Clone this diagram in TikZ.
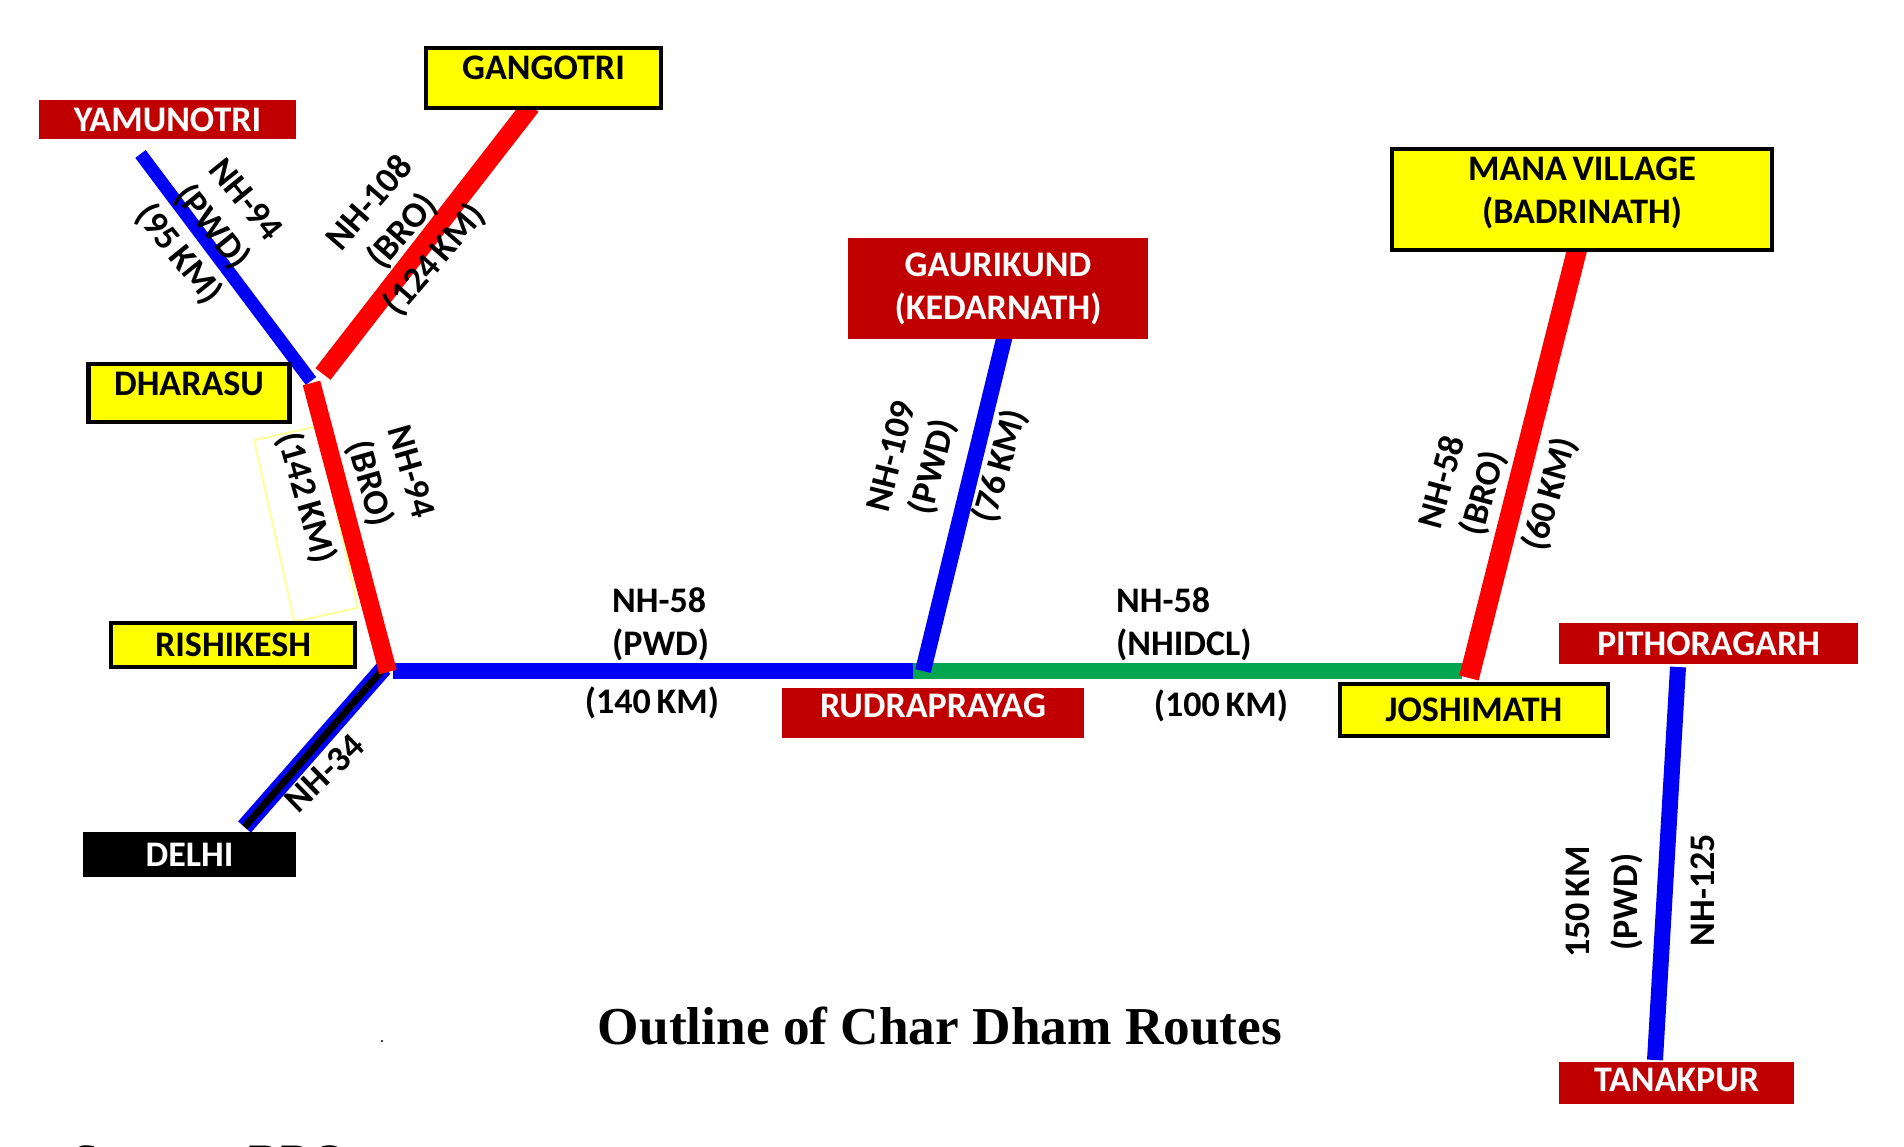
\documentclass[tikz,border=0pt]{standalone}
\usepackage{fontspec}
\setmainfont{Carlito}
\newfontfamily\titlefont{Liberation Serif}
\definecolor{darkred}{HTML}{C00000}
\definecolor{boxyellow}{HTML}{FFFF00}
\definecolor{roadblue}{HTML}{0000F5}
\definecolor{roadgreen}{HTML}{00A650}
\definecolor{paleyellow}{HTML}{FFFF99}
\tikzset{
  yellowbox/.style={draw=black,line width=4.5pt,fill=boxyellow,text=black,font=\routefont,align=center,inner sep=0pt},
  redbox/.style={fill=darkred,text=white,font=\routefont,align=center,inner sep=0pt},
  roadlabel/.style={text=black,font=\routefont,align=center,inner sep=0pt},
  road/.style={line width=#1pt},
}
\newcommand{\routefont}{\fontsize{36}{43}\selectfont\bfseries\spaceskip=.16em\relax}
\begin{document}
\begin{tikzpicture}[x=1pt,y=-1pt]
  \useasboundingbox (0,0) rectangle (1904,1147);

  \coordinate (dharasuN) at (311,381);
  \coordinate (dharasuE) at (323,374);
  \coordinate (dharasuS) at (311.5,383);
  \coordinate (yamunotriEnd) at (140.5,154);
  \coordinate (gangotriEnd) at (531,106);
  \coordinate (rishikeshN) at (388,672);
  \coordinate (rishikeshE) at (393,671);
  \coordinate (rishikeshS) at (384,668);
  \coordinate (delhiEnd) at (244.5,827);
  \coordinate (rudraW) at (912.5,671);
  \coordinate (rudraN) at (923,671);
  \coordinate (gaurikundEnd) at (1005,335);
  \coordinate (joshiW) at (1462,671);
  \coordinate (joshiS) at (1469,678);
  \coordinate (manaEnd) at (1578,246);
  \coordinate (pithoEnd) at (1678,667);
  \coordinate (tanakEnd) at (1655,1060);

  \node (kmframe) at (306,524) [draw=paleyellow,line width=2pt,rotate=-77.5,minimum width=186pt,minimum height=65pt] {};

  \draw[road=13,roadblue] (yamunotriEnd) to (dharasuN);
  \draw[road=17,roadblue] (delhiEnd) to (rishikeshS);
  \draw[road=7,black] (delhiEnd) to (rishikeshS);
  \draw[road=16,roadgreen] (rudraW) to (joshiW);
  \draw[road=16,roadblue] (rishikeshE) to (rudraW);
  \draw[road=16,roadblue] (rudraN) to (gaurikundEnd);
  \draw[road=19,red] (gangotriEnd) to (dharasuE);
  \draw[road=18,red] (dharasuS) to (rishikeshN);
  \draw[road=20,red] (joshiS) to (manaEnd);
  \draw[road=16,roadblue] (pithoEnd) to (tanakEnd);

  \node (yamunotri) at (167.5,119.5) [redbox,minimum width=257pt,minimum height=39pt] {YAMUNOTRI};
  \node (gangotri) at (543.5,78) [yellowbox,minimum width=235pt,minimum height=60pt,text height=24pt,text depth=20pt] {GANGOTRI};
  \node (dharasu) at (189,393) [yellowbox,minimum width=201pt,minimum height=58pt,text height=24pt,text depth=18pt] {DHARASU};
  \node (rishikesh) at (233,645) [yellowbox,minimum width=244pt,minimum height=44pt] {RISHIKESH};
  \node (delhi) at (189.5,854.5) [fill=black,text=white,font=\routefont,inner sep=0pt,minimum width=213pt,minimum height=45pt] {DELHI};
  \node (gaurikund) at (998,288.5) [redbox,minimum width=300pt,minimum height=101pt] {GAURIKUND\\(KEDARNATH)};
  \node (rudraprayag) at (933,713) [redbox,minimum width=302pt,minimum height=50pt,text height=24pt,text depth=16pt] {RUDRAPRAYAG};
  \node (mana) at (1582,199.5) [yellowbox,minimum width=380pt,minimum height=101pt,text depth=18pt] {MANA VILLAGE\\(BADRINATH)};
  \node (joshimath) at (1474,710) [yellowbox,minimum width=268pt,minimum height=52pt] {JOSHIMATH};
  \node (pithoragarh) at (1708.5,643.5) [redbox,minimum width=299pt,minimum height=41pt] {PITHORAGARH};
  \node (tanakpur) at (1676.5,1083) [redbox,minimum width=235pt,minimum height=42pt,text height=24pt,text depth=8pt] {TANAKPUR};

  \node (yamunotriLabel) at (211,228) [roadlabel,rotate=-51] {NH-94\\(PWD)\\(95 KM)};
  \node (gangotriLabel) at (403,232) [roadlabel,rotate=49] {NH-108\\(BRO)\\(124 KM)};
  \node (dharasuLabel) at (389,478) [roadlabel,rotate=-74] {NH-94\\(BRO)};
  \node (dharasuKm) at (306,498) [roadlabel,rotate=-74] {(142 KM)};
  \node (delhiLabel) at (324.5,773) [roadlabel,rotate=44] {NH-34};
  \node (rishikeshLabel) at (612,624) [roadlabel,anchor=west,align=left] {NH-58\\(PWD)};
  \node (rishikeshKm) at (652,703) [roadlabel] {(140 KM)};
  \node (gaurikundLabel) at (914,462) [roadlabel,rotate=76] {NH-109\\(PWD)};
  \node (gaurikundKm) at (1000,466) [roadlabel,rotate=74] {(76 KM)};
  \node (joshiLabel) at (1116,624) [roadlabel,anchor=west,align=left] {NH-58\\(NHIDCL)};
  \node (joshiKm) at (1221,706) [roadlabel] {(100 KM)};
  \node (manaLabel) at (1464,488) [roadlabel,rotate=75] {NH-58\\(BRO)};
  \node (manaKm) at (1550,494) [roadlabel,rotate=74] {(60 KM)};
  \node (tanakLabel) at (1604,902) [roadlabel,rotate=90] {150 KM\\[5pt](PWD)};
  \node (tanakRoad) at (1703,890) [roadlabel,rotate=90] {NH-125};

  \node (speck) at (382,1041) [fill=black,circle,inner sep=.8pt] {};
  \node (routesTitle) at (940,1026) [inner sep=0pt,font=\titlefont\fontsize{53.3}{60}\selectfont\bfseries] {Outline of Char Dham Routes};
  \node (source) at (72,1177) [anchor=base west,inner sep=0pt,font=\titlefont\fontsize{48}{60}\selectfont] {Source:\hspace{30pt}BRO};
\end{tikzpicture}
\end{document}
